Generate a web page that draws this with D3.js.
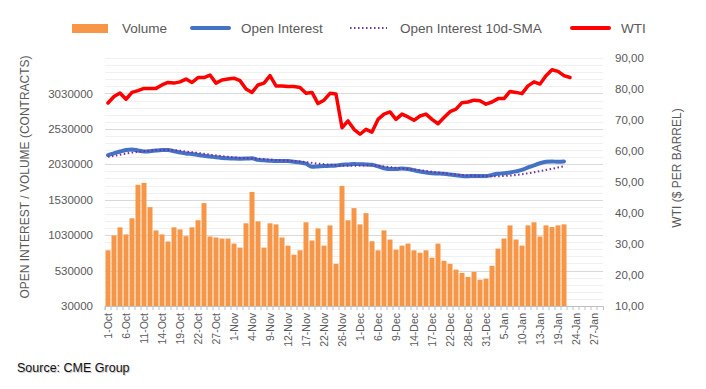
<!DOCTYPE html>
<html>
<head>
<meta charset="utf-8">
<script src="https://cdn.jsdelivr.net/npm/d3@7"></script>
<style>
  body { margin: 0; background: #fff; }
  svg { font-family: "Liberation Sans", Arial, sans-serif; }
</style>
</head>
<body>
<div id="chart"></div>
<script>
// trading days, Oct 2021 - Jan 2022
var months = ['Oct', 'Nov', 'Dec', 'Jan']
var days = [
  [1,4,5,6,7,8,11,12,13,14,15,18,19,20,21,22,25,26,27,28,29],
  [1,2,3,4,5,8,9,10,11,12,15,16,17,18,19,22,23,24,26,29,30],
  [1,2,3,6,7,8,9,10,13,14,15,16,17,20,21,22,23,27,28,29,30,31],
  [3,4,5,6,7,10,11,12,13,14,18,19,20,21,24,25,26,27,28]
]
var dates = []
days.forEach((list, m) => list.forEach(d => dates.push(d + '-' + months[m])))

var volume = [
  816000,1025000,1140000,1040000,1268000,1740000,1768000,1425000,1097000,1040000,
  940000,1140000,1111000,1016000,1140000,1240000,1482000,1011000,997000,982000,
  982000,911000,854000,1197000,1640000,1225000,854000,1197000,1182000,997000,
  882000,754000,816000,1211000,954000,1125000,882000,1168000,625000,1725000,
  1240000,1411000,1182000,1340000,944000,816000,1097000,968000,825000,882000,
  911000,816000,782000,816000,711000,911000,668000,625000,544000,497000,
  440000,511000,401000,416000,597000,840000,982000,1168000,968000,882000,
  1168000,1211000,1011000,1168000,1144000,1168000,1182000
]
var openInterest = [
  2160000,2185000,2210000,2232000,2240000,2225000,2212000,2215000,2224000,2230000,
  2230000,2215000,2197000,2182000,2175000,2162000,2150000,2140000,2128000,2120000,
  2115000,2110000,2108000,2110000,2116000,2092000,2086000,2080000,2076000,2077000,
  2075000,2066000,2056000,2040000,1995000,2000000,2005000,2008000,2012000,2025000,
  2028000,2035000,2030000,2028000,2022000,2000000,1975000,1962000,1962000,1970000,
  1965000,1945000,1928000,1915000,1905000,1900000,1895000,1885000,1875000,1865000,
  1862000,1865000,1865000,1863000,1880000,1895000,1905000,1915000,1930000,1950000,
  1985000,2015000,2045000,2065000,2070000,2065000,2070000
]
var oiSma = [
  2135000,2150000,2165000,2180000,2195000,2205000,2215000,2222000,2228000,2230000,
  2230000,2228000,2222000,2210000,2200000,2190000,2178000,2165000,2155000,2145000,
  2135000,2128000,2120000,2115000,2112000,2108000,2102000,2095000,2090000,2085000,
  2080000,2075000,2068000,2060000,2050000,2040000,2032000,2025000,2018000,2012000,
  2010000,2010000,2012000,2015000,2015000,2010000,2000000,1990000,1980000,1970000,
  1962000,1955000,1945000,1935000,1925000,1915000,1905000,1895000,1885000,1878000,
  1872000,1868000,1865000,1863000,1862000,1862000,1865000,1870000,1880000,1890000,
  1903000,1918000,1935000,1950000,1965000,1985000,2000000
]
var wti = [
  75.5,77.6,78.7,76.7,78.9,79.5,80.2,80.2,80.2,81.3,
  82.1,81.9,82.3,83.2,82.1,83.7,83.7,84.5,81.9,82.9,
  83.2,83.5,82.7,80.0,78.9,81.3,81.9,84.3,81.0,81.0,
  80.8,80.8,80.5,78.6,78.9,75.3,76.4,78.6,78.4,67.5,
  69.7,67.0,65.4,67.0,66.1,70.2,71.9,72.6,70.2,71.9,
  71.0,69.9,71.3,71.9,70.2,68.8,70.8,72.7,73.5,75.6,
  75.8,76.4,76.2,75.1,75.8,76.9,76.9,79.2,78.9,78.5,
  81.0,82.3,81.6,84.3,86.2,85.7,84.3,83.7
]
var leftTicks = [30000,530000,1030000,1530000,2030000,2530000,3030000]
var rightTicks = [10,20,30,40,50,60,70,80,90]
var legendItems = ['Volume', 'Open Interest', 'Open Interest 10d-SMA', 'WTI']

var W = 706, H = 389
var plotL = 105, plotR = 603, plotT = 58, plotB = 306
var textColor = '#595959'

var svg = d3.select('#chart').append('svg')
    .attr('width', W).attr('height', H)

var x = d3.scaleBand().domain(dates.map((d, i) => i)).range([plotL, plotR]).paddingInner(0.17).paddingOuter(0.085)
var y = d3.scaleLinear().domain([30000, 3530000]).range([plotB, plotT])
var y2 = d3.scaleLinear().domain([10, 90]).range([plotB, plotT])
var cx = i => x(i) + x.bandwidth() / 2

// grid
var minor = d3.range(30000, 3530001, 100000)
svg.append('g').selectAll('line').data(minor).enter().append('line')
    .attr('x1', plotL).attr('x2', plotR)
    .attr('y1', d => Math.round(y(d)) + 0.5).attr('y2', d => Math.round(y(d)) + 0.5)
    .attr('stroke', '#f0f0f0')
svg.append('g').selectAll('line').data(leftTicks).enter().append('line')
    .attr('x1', plotL).attr('x2', plotR)
    .attr('y1', d => Math.round(y(d)) + 0.5).attr('y2', d => Math.round(y(d)) + 0.5)
    .attr('stroke', '#d9d9d9')

// bars
svg.append('g').selectAll('rect').data(volume).enter().append('rect')
    .attr('x', (d, i) => x(i))
    .attr('width', x.bandwidth())
    .attr('y', d => y(d))
    .attr('height', d => plotB - y(d))
    .attr('fill', '#F79646')

// x axis
var xAxis = d3.axisBottom(x).tickSize(4).tickFormat(i => i % 3 == 0 ? dates[i] : '')
var gx = svg.append('g').attr('transform', 'translate(0,' + plotB + ')').call(xAxis)
gx.select('.domain').attr('stroke', '#bfbfbf')
gx.selectAll('.tick line').attr('stroke', '#bfbfbf').attr('transform', 'translate(' + (-x.step() / 2) + ',0)')
gx.selectAll('.tick text')
    .attr('fill', textColor).attr('font-size', 10.5)
    .attr('transform', 'rotate(-90)')
    .attr('text-anchor', 'end')
    .attr('x', -7).attr('y', 0).attr('dy', '0.35em')

// left axis
var gy = svg.append('g').attr('transform', 'translate(' + plotL + ',0)')
    .call(d3.axisLeft(y).tickValues(leftTicks).tickSize(0).tickPadding(12).tickFormat(d => d))
gy.select('.domain').remove()
gy.selectAll('text').attr('fill', textColor).attr('font-size', 11.5)

// right axis
var gy2 = svg.append('g').attr('transform', 'translate(' + plotR + ',0)')
    .call(d3.axisRight(y2).tickValues(rightTicks).tickSize(0).tickPadding(12).tickFormat(d => d3.format('.2f')(d).replace('.', ',')))
gy2.select('.domain').remove()
gy2.selectAll('text').attr('fill', textColor).attr('font-size', 11.5)

// lines
var oiLine = d3.line().x((d, i) => cx(i)).y(d => y(d)).curve(d3.curveMonotoneX)
var wtiLine = d3.line().x((d, i) => cx(i)).y(d => y2(d))

svg.append('path').datum(openInterest).attr('d', oiLine)
    .attr('fill', 'none').attr('stroke', '#4472C4').attr('stroke-width', 4).attr('stroke-linecap', 'round')
svg.append('path').datum(oiSma).attr('d', oiLine)
    .attr('fill', 'none').attr('stroke', '#7030A0').attr('stroke-width', 2).attr('stroke-dasharray', '1.5,2.5')
svg.append('path').datum(wti).attr('d', wtiLine)
    .attr('fill', 'none').attr('stroke', '#FF0000').attr('stroke-width', 3.5)
    .attr('stroke-linejoin', 'round').attr('stroke-linecap', 'round')

// axis titles
svg.append('text').attr('transform', 'translate(29,177) rotate(-90)')
    .attr('text-anchor', 'middle').attr('fill', textColor).attr('font-size', 12)
    .text('OPEN INTEREST / VOLUME (CONTRACTS)')
svg.append('text').attr('transform', 'translate(681,168) rotate(-90)')
    .attr('text-anchor', 'middle').attr('fill', textColor).attr('font-size', 12)
    .text('WTI ($ PER BARREL)')

// legend
var lg = svg.append('g')
var lx = [72, 191, 350, 571]
legendItems.forEach((name, i) => {
    var g = lg.append('g').attr('transform', 'translate(' + lx[i] + ',28)')
    if (i == 0) g.append('rect').attr('x', 0).attr('y', -4).attr('width', 36).attr('height', 9).attr('fill', '#F79646')
    if (i == 1) g.append('line').attr('x1', 1).attr('x2', 38).attr('stroke', '#4472C4').attr('stroke-width', 4).attr('stroke-linecap', 'round')
    if (i == 2) g.append('line').attr('x1', 0).attr('x2', 37).attr('stroke', '#7030A0').attr('stroke-width', 2).attr('stroke-dasharray', '1.5,2.5')
    if (i == 3) g.append('line').attr('x1', 1).attr('x2', 38).attr('stroke', '#FF0000').attr('stroke-width', 4).attr('stroke-linecap', 'round')
    g.append('text').attr('x', 50).attr('dy', '0.35em').attr('fill', textColor).attr('font-size', 13.5).text(name)
})

// source
svg.append('text').attr('x', 17).attr('y', 372).attr('font-size', 12.5).attr('fill', '#111')
    .style('text-shadow', '1px 1px 1px rgba(0,0,0,0.25)')
    .text('Source: CME Group')
</script>
</body>
</html>
